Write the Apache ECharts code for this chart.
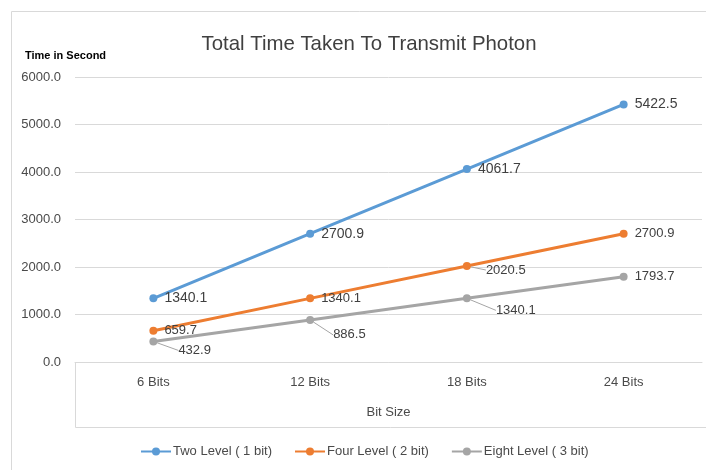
<!DOCTYPE html>
<html>
<head>
<meta charset="utf-8">
<script src="https://cdn.jsdelivr.net/npm/echarts@6/dist/echarts.min.js"></script>
<style>html,body{margin:0;padding:0;background:#fff;}#c{width:706px;height:470px;}</style>
</head>
<body>
<div id="c"></div>
<script>
var categories = ['6 Bits', '12 Bits', '18 Bits', '24 Bits'];
var twoLevel = [1340.1, 2700.9, 4061.7, 5422.5];
var fourLevel = [659.7, 1340.1, 2020.5, 2700.9];
var eightLevel = [432.9, 886.5, 1340.1, 1793.7];
var seriesNames = ['Two Level ( 1 bit)', 'Four Level ( 2 bit)', 'Eight Level ( 3 bit)'];
var yTicks = [0, 1000, 2000, 3000, 4000, 5000, 6000];

var FONT = 'Liberation Sans';
var TXT = '#4a4a4a';
var chart = echarts.init(document.getElementById('c'));

var fourShift = {2: [8, 4]};
var eightShift = {0: [14, 9], 1: [12, 15], 2: [18, 12]};

function mkSeries(name, values, color, fs, shifts) {
  var data = values.map(function (v, i) {
    return shifts[i] ? {value: v, labelLine: {show: true}} : {value: v, labelLine: {show: false}};
  });
  return {
    name: name, type: 'line', data: data,
    symbol: 'circle', symbolSize: 8,
    lineStyle: {width: 3, color: color},
    itemStyle: {color: color},
    label: {show: true, position: 'right', distance: 7, color: '#404040',
            fontFamily: FONT, fontSize: fs,
            formatter: function (p) { return p.value.toFixed(1); }},
    labelLine: {show: false, lineStyle: {color: '#a5a5a5', width: 1}},
    labelLayout: function (p) {
      var s = shifts[p.dataIndex];
      return s ? {dx: s[0], dy: s[1]} : {};
    },
    emphasis: {disabled: true},
    animation: false
  };
}

chart.setOption({
  animation: false,
  title: [
    {text: 'Total Time Taken To Transmit Photon', left: 364, textAlign: 'center', top: 29,
     textStyle: {fontFamily: FONT, fontSize: 20.4, fontWeight: 'normal', color: '#404040'}},
    {text: 'Time in Second', left: 20, top: 45,
     textStyle: {fontFamily: FONT, fontSize: 11, fontWeight: 'bold', color: '#000'}}
  ],
  grid: {left: 75, right: 4, top: 77, bottom: 108},
  legend: {
    data: seriesNames, left: 135, top: 440, itemWidth: 30, itemHeight: 10, itemGap: 22,
    textStyle: {fontFamily: FONT, fontSize: 13, color: TXT, padding: [0, 0, 0, -3]}
  },
  xAxis: {
    type: 'category', data: categories, boundaryGap: true,
    axisLine: {lineStyle: {color: '#d9d9d9', width: 1}},
    axisTick: {show: false},
    axisLabel: {fontFamily: FONT, fontSize: 13, color: TXT, margin: 14},
    name: 'Bit Size', nameLocation: 'middle', nameGap: 44,
    nameTextStyle: {fontFamily: FONT, fontSize: 13, color: TXT}
  },
  yAxis: {
    type: 'value', min: yTicks[0], max: yTicks[yTicks.length - 1], interval: 1000,
    axisLine: {show: false}, axisTick: {show: false},
    splitLine: {lineStyle: {color: '#d9d9d9', width: 1}},
    axisLabel: {fontFamily: FONT, fontSize: 13, color: TXT, margin: 14,
                formatter: function (v) { return v.toFixed(1); }}
  },
  graphic: [
    {type: 'rect', shape: {x: 11.5, y: 11.5, width: 800, height: 600}, silent: true,
     style: {fill: 'none', stroke: '#d9d9d9', lineWidth: 1}},
    {type: 'polyline', shape: {points: [[75.5, 362], [75.5, 427.5], [706, 427.5]]}, silent: true,
     style: {fill: 'none', stroke: '#d9d9d9', lineWidth: 1}}
  ],
  series: [
    mkSeries(seriesNames[0], twoLevel, '#5B9BD5', 14, {}),
    mkSeries(seriesNames[1], fourLevel, '#ED7D31', 13, fourShift),
    mkSeries(seriesNames[2], eightLevel, '#A5A5A5', 13, eightShift)
  ]
});
</script>
</body>
</html>
